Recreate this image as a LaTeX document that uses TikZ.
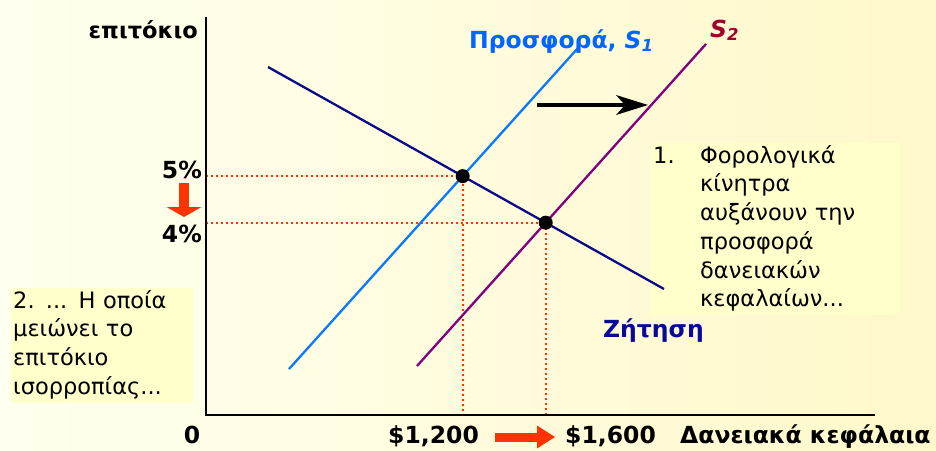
\documentclass[tikz,border=0pt]{standalone}
\usepackage{fontspec}
\setmainfont{DejaVu Sans}
\usepackage{xcolor}
\usepackage{tikz}
\usetikzlibrary{positioning, arrows.meta}

\definecolor{bgleft}{HTML}{FFFFF0}
\definecolor{bgright}{HTML}{FFF8CA}
\definecolor{notebg}{HTML}{FFFFCC}
\definecolor{supplyblue}{HTML}{0A78FF}
\definecolor{labelblue}{HTML}{0066FF}
\definecolor{demandnavy}{HTML}{0A0A88}
\definecolor{zitisi}{HTML}{0A0A99}
\definecolor{supplypurple}{HTML}{800080}
\definecolor{stwo}{HTML}{A0002A}
\definecolor{dotred}{HTML}{FF3300}

\begin{document}
\begin{tikzpicture}[
        x=1pt, y=-1pt,
        lbl/.style={font=\bfseries\fontsize{23.5}{28}\selectfont, inner sep=0pt},
        note/.style={fill=notebg, inner xsep=2pt, inner ysep=0pt, anchor=north west, font=\fontsize{22.5}{28.7}\selectfont},
        axis/.style={line width=2.2pt},
        curve/.style={line width=2.3pt},
        guide/.style={dotred, line width=1.8pt, dash pattern=on 1.8pt off 3.2pt},
        eqpt/.style={circle, fill=black, inner sep=0pt, minimum size=14pt},
        fatarr/.style={dotred, line width=#1},
    ]
    % ---- Background ----
    \fill[left color=bgleft, right color=bgright] (0,0) rectangle (936,450);
    \useasboundingbox (0,0) rectangle (936,450);

    % ---- Notes ----
    \node[note, text width=245pt] (tax-note) at (651,143) {\begin{tabular}{@{}p{47pt}@{}l@{}}
        1.&Φορολογικά\\&κίνητρα\\&αυξάνουν την\\&προσφορά\\&δανειακών\\&κεφαλαίων...
        \end{tabular}};
    \node[note, text width=178pt] (rate-note) at (11,288) {\begin{tabular}{@{}l@{}}
        2. ... Η οποία\\μειώνει το\\επιτόκιο\\ισορροπίας...
        \end{tabular}};

    % ---- Points of the curves ----
    \coordinate (O) at (206,415);
    \coordinate (ytop) at (206,17);
    \coordinate (xend) at (875,415);
    \coordinate (d-start) at (268,67);
    \coordinate (d-end) at (664,289);
    \coordinate (s1-start) at (289,369);
    \coordinate (s1-end) at (578,48);
    \coordinate (s2-start) at (417,366);
    \coordinate (s2-end) at (706,44);
    \coordinate (e1) at (intersection of d-start--d-end and s1-start--s1-end);
    \coordinate (e2) at (intersection of d-start--d-end and s2-start--s2-end);

    % ---- Guides ----
    \draw[guide] (O |- e1) -- (e1) -- (e1 |- O);
    \draw[guide] (O |- e2) -- (e2) -- (e2 |- O);

    % ---- Axes and curves ----
    \draw[axis] (ytop) -- (O) -- (xend);
    \draw[curve, supplyblue] (s1-start) -- (s1-end);
    \draw[curve, supplypurple] (s2-start) -- (s2-end);
    \draw[curve, demandnavy] (d-start) -- (d-end);
    \node[eqpt] (eq1) at (e1) {};
    \node[eqpt] (eq2) at (e2) {};

    % ---- Arrows ----
    \coordinate (shift-from) at (537,105);
    \coordinate (shift-to) at (648,105);
    \draw[line width=4.5pt, -{Stealth[length=32pt, width=20pt, inset=9pt, line width=0pt]}] (shift-from) -- (shift-to);
    \coordinate (rate-from) at (184,183);
    \coordinate (rate-to) at (184,217);
    \draw[fatarr=10pt, -{Triangle[length=10pt, width=35pt, line width=0pt]}] (rate-from) -- (rate-to);
    \coordinate (fund-from) at (495,437);
    \coordinate (fund-to) at (555,437);
    \draw[fatarr=9pt, -{Triangle[length=18pt, width=23pt, line width=0pt]}] (fund-from) -- (fund-to);

    % ---- Labels ----
    \node[lbl, font=\bfseries\fontsize{22.5}{27}\selectfont, anchor=base east] (ylabel) at (198,38) {επιτόκιο};
    \node[lbl, anchor=base east] (r5) at (202,178) {5\%};
    \node[lbl, anchor=base east] (r4) at (202,242) {4\%};
    \node[lbl, anchor=base] (origin) at (192,443) {0};
    \node[lbl, anchor=base west] (q1) at (388,443) {\$1,200};
    \node[lbl, anchor=base west] (q2) at (565,443) {\$1,600};
    \node[lbl, anchor=base west] (xlabel) at (680,443) {Δανειακά κεφάλαια};
    \node[lbl, text=labelblue, anchor=base west] (s1-label) at (469,48) {Προσφορά, \textit{S}\textsubscript{\textit{1}}};
    \node[lbl, text=stwo, anchor=base west] (s2-label) at (710,37) {\textit{S}\textsubscript{\textit{2}}};
    \node[lbl, text=zitisi, anchor=base west] (d-label) at (603,337) {Ζήτηση};
\end{tikzpicture}
\end{document}
